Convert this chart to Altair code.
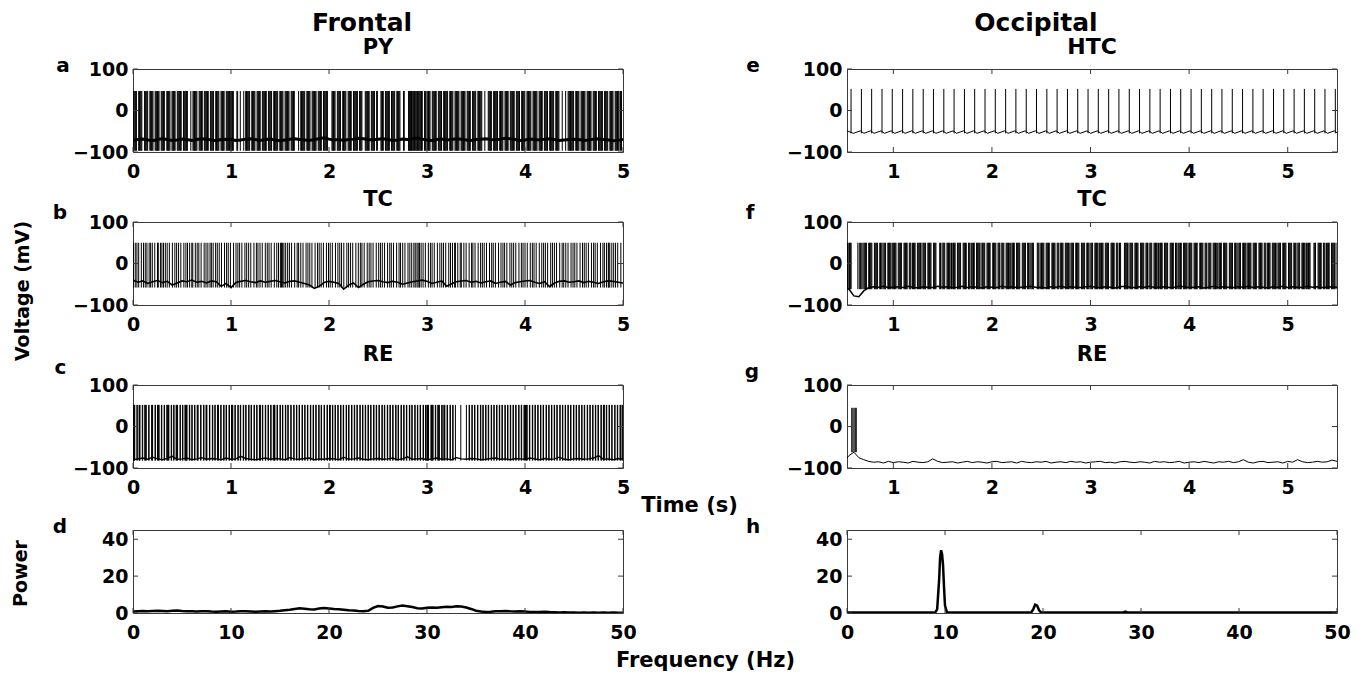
import altair as alt
import pandas as pd

FONT = "DejaVu Sans"
FRAME = "#3a3a3a"
W, H = 490, 83

# ---------------- axis ticks ----------------
time_ticks_left = [0, 1, 2, 3, 4, 5]
time_ticks_right = [1, 2, 3, 4, 5]
volt_ticks = [-100, 0, 100]
freq_ticks = [0, 10, 20, 30, 40, 50]
power_ticks = [0, 20, 40]

# ---------------- (a) Frontal PY ----------------
py_spikes_ms = [
    3, 11, 19, 27, 35, 58, 66, 74, 82, 90,
    118, 126, 134, 142, 150, 172, 180, 188, 196,
    204, 226, 234, 242, 250, 258, 266, 288, 296,
    304, 312, 320, 345, 353, 361, 369, 377, 398,
    406, 414, 422, 430, 452, 460, 468, 476, 484, 492,
    515, 523, 531, 539, 547, 555, 590,
    612, 620, 628, 636, 644, 652, 675, 683, 691, 699,
    707, 728, 736, 744, 752, 760, 768, 790, 798,
    806, 814, 822, 844, 852, 860, 868, 876, 898,
    906, 914, 922, 930, 952, 960, 968, 976, 984, 992,
    1000, 1008, 1016, 1024, 1060, 1068, 1095,
    1130, 1150, 1158, 1166, 1174, 1182, 1190,
    1212, 1220, 1228, 1236, 1244, 1266, 1274, 1282, 1290, 1298,
    1320, 1328, 1336, 1344, 1352, 1360, 1382, 1390, 1398,
    1406, 1414, 1436, 1444, 1452, 1460, 1468, 1476, 1498,
    1506, 1514, 1522, 1530, 1552, 1560, 1568, 1576, 1584, 1592,
    1614, 1622, 1630, 1638, 1646, 1690,
    1712, 1720, 1728, 1736, 1744, 1752, 1774, 1782, 1790, 1798,
    1806, 1828, 1836, 1844, 1852, 1860, 1868, 1890, 1898,
    1906, 1914, 1922, 1944, 1952, 1960, 1968, 1976, 1984,
    2030, 2038, 2046, 2054, 2062, 2085, 2093,
    2101, 2109, 2117, 2140, 2148, 2156, 2164, 2172, 2195,
    2203, 2211, 2219, 2227, 2250, 2258, 2266, 2274, 2282, 2290,
    2312, 2320, 2328, 2336, 2370, 2378, 2386, 2394,
    2402, 2410, 2432, 2440, 2448, 2456, 2464, 2486, 2494,
    2530, 2538, 2546, 2554, 2576, 2584, 2592,
    2600, 2608, 2616, 2638, 2646, 2654, 2662, 2670, 2692,
    2700, 2708, 2716, 2724, 2760, 2768,
    2812, 2818, 2824, 2830, 2836, 2842, 2848, 2856, 2864, 2872, 2880, 2888, 2896,
    2904, 2912, 2920, 2928, 2936, 2944, 2952, 2975, 2983, 2991,
    3007, 3015, 3023, 3031, 3054, 3062, 3070, 3078, 3086, 3094,
    3116, 3124, 3132, 3140, 3148, 3170, 3178, 3186, 3194,
    3202, 3210, 3232, 3240, 3248, 3256, 3264, 3286, 3294,
    3302, 3310, 3318, 3326, 3348, 3356, 3364, 3372, 3380, 3388,
    3410, 3418, 3426, 3434, 3442, 3465, 3473, 3481, 3489, 3497,
    3519, 3527, 3535, 3543, 3551, 3559, 3590,
    3625, 3633, 3641, 3649, 3657, 3680, 3688, 3696,
    3704, 3712, 3720, 3742, 3750, 3758, 3766, 3774, 3796,
    3804, 3812, 3820, 3828, 3850, 3858, 3866, 3874, 3882, 3890,
    3912, 3920, 3928, 3936, 3944, 3966, 3974, 3982, 3990, 3998,
    4020, 4028, 4036, 4044, 4052, 4060, 4082, 4090, 4098,
    4106, 4114, 4122, 4144, 4152, 4160, 4168, 4176, 4198,
    4206, 4214, 4222, 4230, 4252, 4260, 4268, 4276, 4284, 4292,
    4314, 4322, 4330, 4338, 4346, 4380,
    4415, 4440, 4448, 4456, 4464, 4472, 4480, 4488, 4496,
    4518, 4526, 4534, 4542, 4550, 4572, 4580, 4588, 4596,
    4604, 4612, 4634, 4642, 4650, 4658, 4666, 4674, 4696,
    4704, 4712, 4720, 4728, 4750, 4758, 4766, 4774, 4782, 4790,
    4812, 4820, 4828, 4836, 4844, 4866, 4874, 4882, 4890, 4898,
    4920, 4928, 4936, 4944, 4952, 4960, 4975, 4985,
]
py_spike_lo, py_spike_hi = -97, 47
py_base_t_ms = list(range(0, 5001, 50))
py_base_mv = [
    -72, -70, -69, -71, -73, -70, -68, -70, -72, -71,
    -69, -70, -72, -70, -68, -69, -71, -73, -70, -69,
    -70, -72, -71, -69, -68, -70, -72, -70, -69, -71,
    -73, -71, -69, -68, -70, -71, -72, -70, -68, -66,
    -69, -71, -70, -72, -70, -69, -67, -68, -70, -71,
    -69, -68, -70, -72, -71, -69, -70, -68, -67, -69,
    -71, -72, -70, -69, -71, -70, -68, -69, -71, -72,
    -70, -69, -68, -70, -71, -69, -67, -68, -70, -72,
    -71, -69, -70, -71, -69, -68, -70, -72, -71, -70,
    -69, -70, -72, -71, -69, -68, -70, -71, -73, -72, -70,
]

# ---------------- (b) Frontal TC ----------------
tcf_spikes_ms = [
    5, 23, 58, 85, 107, 142, 165, 197, 222, 250, 258, 280, 311, 349, 371, 402,
    427, 465, 488, 519, 556, 578, 600, 610, 636, 672, 695, 726, 764, 786, 818,
    843, 880, 903, 934, 972, 994, 1026, 1051, 1088, 1111, 1142, 1180, 1202,
    1234, 1259, 1296, 1319, 1350, 1388, 1410, 1442, 1467, 1504, 1515, 1527,
    1540, 1558, 1596, 1618, 1650, 1675, 1712, 1735, 1766, 1804, 1826, 1858,
    1883, 1920, 1943, 1974, 2012, 2034, 2066, 2091, 2128, 2151, 2182, 2220,
    2242, 2274, 2299, 2336, 2359, 2390, 2428, 2450, 2482, 2507, 2544, 2567,
    2598, 2636, 2658, 2690, 2715, 2752, 2775, 2806, 2844, 2866, 2880, 2898,
    2910, 2923, 2960, 2983, 3014, 3052, 3074, 3106, 3131, 3168, 3191, 3222,
    3260, 3282, 3290, 3314, 3339, 3350, 3376, 3399, 3430, 3468, 3490, 3522,
    3547, 3584, 3607, 3638, 3676, 3698, 3730, 3755, 3792, 3815, 3846, 3884,
    3906, 3938, 3963, 4000, 4023, 4054, 4092, 4114, 4146, 4171, 4208, 4231,
    4262, 4300, 4322, 4354, 4379, 4416, 4439, 4470, 4508, 4530, 4562, 4587,
    4624, 4647, 4678, 4716, 4738, 4770, 4795, 4832, 4850, 4855, 4865, 4886,
    4924, 4946, 4978,
    40, 125, 180, 295, 330, 445, 540, 655, 745, 800, 860, 955, 1070, 1160,
    1275, 1370, 1485, 1578, 1690, 1785, 1900, 1995, 2110, 2200, 2320, 2410,
    2525, 2620, 2730, 2825, 2940, 3035, 3150, 3240, 3455, 3565, 3660, 3775,
    3865, 3980, 4075, 4190, 4280, 4395, 4490, 4605, 4700, 4810, 4905,
]
tcf_spike_lo, tcf_spike_hi = -58, 50
tcf_base_t_ms = list(range(0, 5001, 50))
tcf_base_mv = [
    -40, -45, -42, -48, -44, -41, -46, -43, -52, -47,
    -42, -44, -40, -45, -43, -47, -42, -44, -55, -48,
    -58, -46, -43, -41, -44, -46, -42, -45, -43, -41,
    -44, -47, -43, -42, -45, -48, -52, -60, -55, -46,
    -43, -45, -48, -62, -52, -47, -58, -50, -44, -42,
    -41, -44, -46, -43, -45, -50, -47, -44, -42, -40,
    -43, -48, -45, -42, -55, -49, -44, -42, -41, -45,
    -43, -47, -44, -42, -48, -45, -43, -52, -46, -44,
    -42, -41, -45, -48, -44, -56, -47, -43, -42, -45,
    -44, -42, -46, -43, -45, -48, -44, -42, -43, -45, -47,
]

# ---------------- (c) Frontal RE ----------------
ref_spikes_ms = [
    3, 8, 14, 40, 62, 67, 95, 120, 125, 131, 160, 190, 196, 225, 250, 256, 262,
    290, 318, 345, 350, 356, 362, 390, 415, 440, 445, 451, 480, 505, 530, 535,
    541, 547, 575, 600, 628, 655, 660, 690, 720, 745, 750, 780, 810, 835, 862,
    868, 895, 925, 950, 980, 1005, 1008, 1013, 1018, 1040, 1070, 1095, 1125,
    1150, 1180, 1205, 1235, 1262, 1290, 1296, 1320, 1350, 1378, 1405, 1432,
    1438, 1444, 1470, 1500, 1525, 1555, 1580, 1610, 1640, 1668, 1695, 1725,
    1752, 1780, 1810, 1838, 1865, 1895, 1920, 1950, 1980, 2005, 2008, 2013,
    2035, 2062, 2090, 2118, 2145, 2175, 2200, 2230, 2258, 2285, 2315, 2342,
    2370, 2398, 2425, 2455, 2482, 2510, 2540, 2565, 2595, 2622, 2650, 2680,
    2705, 2735, 2762, 2790, 2820, 2845, 2875, 2902, 2930, 2960, 2985, 3000,
    3005, 3012, 3040, 3046, 3052, 3058, 3085, 3110, 3116, 3122, 3150, 3165,
    3178, 3205, 3235, 3262, 3290, 3345, 3402, 3430, 3458, 3485,
    3515, 3545, 3570, 3598, 3625, 3655, 3682, 3710, 3738, 3765, 3795, 3822,
    3850, 3878, 3905, 3935, 3962, 3990, 4005, 4012, 4018, 4045, 4075, 4102,
    4130, 4158, 4185, 4215, 4242, 4270, 4298, 4325, 4355, 4382, 4410, 4438,
    4465, 4495, 4522, 4550, 4578, 4605, 4635, 4662, 4690, 4718, 4745, 4775,
    4800, 4802, 4810, 4830, 4858, 4885, 4915, 4942, 4970, 4990,
    18, 44, 71, 99, 135, 164, 200, 229, 266, 294, 322, 366, 394, 419, 455, 484,
    509, 551, 579, 604, 632, 664, 694, 724, 754, 784, 814, 839, 872, 899, 929,
    954, 984, 1044, 1074, 1099, 1129, 1154, 1184, 1209, 1239, 1266, 1300, 1324,
    1354, 1382, 1409, 1448, 1474, 1504, 1529, 1559, 1584, 1614, 1644, 1672,
    1699, 1729, 1756, 1784, 1814, 1842, 1869, 1899, 1924, 1954, 1984, 2039,
    2066, 2094, 2122, 2149, 2179, 2204, 2234, 2262, 2289, 2319, 2346, 2374,
    2402, 2429, 2459, 2486, 2514, 2544, 2569, 2599, 2626, 2654, 2684, 2709,
    2739, 2766, 2794, 2824, 2849, 2879, 2906, 2934, 2964, 2989, 3016, 3062,
    3089, 3126, 3154, 3182, 3209, 3239, 3266, 3434, 3462, 3489, 3519, 3549,
    3574, 3602, 3629, 3659, 3686, 3714, 3742, 3769, 3799, 3826, 3854, 3882,
    3909, 3939, 3966, 3994, 4022, 4049, 4079, 4106, 4134, 4162, 4189, 4219,
    4246, 4274, 4302, 4329, 4359, 4386, 4414, 4442, 4469, 4499, 4526, 4554,
    4582, 4609, 4639, 4666, 4694, 4722, 4749, 4779, 4834, 4862, 4889, 4919,
    4946, 4974, 4994,
]
ref_spike_lo, ref_spike_hi = -82, 52
ref_base_t_ms = list(range(0, 5001, 50))
ref_base_mv = [
    -80, -78, -76, -79, -74, -78, -80, -77, -72, -79,
    -78, -76, -80, -78, -75, -79, -77, -78, -80, -76,
    -79, -78, -72, -77, -79, -80, -78, -76, -79, -77,
    -78, -80, -75, -78, -79, -77, -76, -80, -78, -79,
    -77, -78, -80, -74, -79, -78, -76, -79, -80, -78,
    -77, -79, -78, -76, -80, -78, -73, -79, -78, -77,
    -80, -78, -76, -79, -78, -80, -75, -78, -79, -77,
    -78, -80, -79, -77, -76, -79, -78, -80, -77, -78,
    -79, -76, -78, -80, -77, -79, -78, -74, -79, -80,
    -78, -77, -79, -78, -76, -70, -79, -78, -80, -77, -79,
]

# ---------------- (d) Frontal power ----------------
pf_freq = [i / 2 for i in range(101)]
pf_power = [
    0.8, 1.0, 1.1, 1.0, 1.1, 1.2, 1.1, 1.0, 1.2, 1.3,
    1.1, 1.0, 0.9, 0.8, 0.9, 1.0, 0.8, 0.7, 0.8, 0.9,
    0.7, 0.8, 1.0, 0.9, 0.8, 0.7, 0.8, 0.9, 0.8, 1.0,
    1.2, 1.5, 1.8, 2.2, 2.6, 2.3, 2.0, 1.9, 2.4, 2.7,
    2.5, 2.2, 2.0, 1.8, 1.5, 1.3, 1.1, 1.0, 1.2, 2.8,
    3.8, 3.5, 2.9, 3.0, 3.6, 4.0, 3.7, 3.2, 2.6, 2.5,
    2.9, 3.0, 2.8, 3.1, 3.4, 3.3, 3.6, 3.5, 3.0, 2.2,
    1.2, 0.8, 0.6, 0.7, 0.9, 1.0, 1.1, 0.9, 0.8, 0.9,
    0.8, 0.6, 0.5, 0.6, 0.7, 0.5, 0.4, 0.3, 0.4, 0.3,
    0.3, 0.2, 0.3, 0.2, 0.3, 0.2, 0.3, 0.2, 0.3, 0.2, 0.2,
]

# ---------------- (e) Occipital HTC ----------------
htc_spikes_ms = [
    571, 676, 780, 885, 989, 1094, 1198, 1303, 1407, 1512, 1616, 1721, 1825,
    1930, 2034, 2139, 2243, 2348, 2452, 2557, 2661, 2766, 2870, 2975, 3079,
    3184, 3288, 3393, 3497, 3602, 3706, 3811, 3915, 4020, 4124, 4229, 4333,
    4438, 4542, 4647, 4751, 4856, 4960, 5065, 5169, 5274, 5378, 5483,
]
htc_spike_lo, htc_spike_hi = -55, 52
htc_trough_ms = [
    596, 701, 805, 910, 1014, 1119, 1223, 1328, 1432, 1537, 1641, 1746, 1850,
    1955, 2059, 2164, 2268, 2373, 2477, 2582, 2686, 2791, 2895, 3000, 3104,
    3209, 3313, 3418, 3522, 3627, 3731, 3836, 3940, 4045, 4149, 4254, 4358,
    4463, 4567, 4672, 4776, 4881, 4985, 5090, 5194, 5299, 5403, 5508,
]
htc_trough_mv = -55
htc_pre_ms = [
    530, 666, 770, 875, 979, 1084, 1188, 1293, 1397, 1502, 1606, 1711, 1815,
    1920, 2024, 2129, 2233, 2338, 2442, 2547, 2651, 2756, 2860, 2965, 3069,
    3174, 3278, 3383, 3487, 3592, 3696, 3801, 3905, 4010, 4114, 4219, 4323,
    4428, 4532, 4637, 4741, 4846, 4950, 5055, 5159, 5264, 5368, 5473,
]
htc_pre_mv = -49

# ---------------- (f) Occipital TC ----------------
tco_spikes_ms = [
    535, 548, 556, 564, 572, 640, 655, 668, 680, 692,
    703, 711, 719, 727, 750, 758, 766, 774, 782,
    808, 816, 824, 832, 840, 862, 870, 878, 894,
    905, 913, 921, 944, 952, 960, 968, 976, 990,
    1003, 1011, 1019, 1027, 1050, 1058, 1066, 1074, 1082,
    1108, 1116, 1124, 1132, 1140, 1162, 1170, 1178, 1194,
    1205, 1213, 1221, 1244, 1252, 1260, 1268, 1276, 1290,
    1303, 1311, 1319, 1327, 1350, 1358, 1366, 1374, 1382,
    1408, 1416, 1424, 1432, 1470, 1478, 1494,
    1505, 1513, 1521, 1544, 1552, 1560, 1568, 1576, 1590,
    1603, 1611, 1619, 1627, 1650, 1658, 1666, 1674, 1682,
    1708, 1716, 1724, 1732, 1740, 1762, 1770, 1778, 1794,
    1805, 1813, 1821, 1844, 1852, 1860, 1868, 1876, 1890,
    1903, 1911, 1919, 1927, 1950, 1958, 1966, 1974, 1982,
    2008, 2016, 2024, 2032, 2040, 2062, 2070, 2078, 2094,
    2105, 2113, 2121, 2144, 2152, 2160, 2168, 2176, 2190,
    2203, 2211, 2219, 2227, 2250, 2258, 2266, 2274, 2282,
    2308, 2316, 2324, 2332, 2340, 2362, 2370, 2378, 2394,
    2405, 2413, 2421, 2460, 2468, 2476, 2490,
    2503, 2511, 2519, 2527, 2550, 2558, 2566, 2574, 2582,
    2608, 2616, 2624, 2632, 2640, 2662, 2670, 2678, 2694,
    2705, 2713, 2721, 2744, 2752, 2760, 2768, 2776, 2790,
    2803, 2811, 2819, 2827, 2850, 2858, 2866, 2874, 2882,
    2908, 2916, 2924, 2932, 2940, 2962, 2970, 2978, 2994,
    3005, 3013, 3021, 3044, 3052, 3060, 3068, 3076, 3090,
    3103, 3111, 3119, 3127, 3150, 3158, 3166, 3174, 3182,
    3208, 3216, 3224, 3232, 3240, 3262, 3270, 3278, 3294,
    3305, 3344, 3352, 3360, 3368, 3376, 3390,
    3403, 3411, 3419, 3427, 3450, 3458, 3466, 3474, 3482,
    3508, 3516, 3524, 3532, 3540, 3562, 3570, 3578, 3594,
    3605, 3613, 3621, 3644, 3652, 3660, 3668, 3676, 3690,
    3703, 3711, 3719, 3727, 3750, 3758, 3766, 3774, 3782,
    3808, 3816, 3824, 3832, 3840, 3862, 3870, 3878, 3894,
    3905, 3913, 3921, 3944, 3952, 3960, 3968, 3976, 3990,
    4003, 4011, 4019, 4027, 4050, 4058, 4066, 4074, 4082,
    4108, 4116, 4124, 4132, 4140, 4162, 4170, 4178, 4194,
    4205, 4213, 4221, 4244, 4252, 4260, 4268, 4276, 4290,
    4303, 4311, 4319, 4327, 4350, 4358, 4366, 4374, 4382,
    4408, 4416, 4424, 4432, 4440, 4462, 4470, 4478, 4494,
    4505, 4513, 4521, 4544, 4552, 4560, 4568, 4576, 4590,
    4603, 4611, 4619, 4627, 4650, 4658, 4666, 4674, 4682,
    4708, 4716, 4724, 4732, 4740, 4762, 4770, 4778, 4794,
    4805, 4813, 4821, 4844, 4852, 4860, 4868, 4876, 4890,
    4903, 4911, 4919, 4927, 4950, 4958, 4966, 4974, 4982,
    5008, 5016, 5024, 5032, 5040, 5062, 5070, 5078, 5094,
    5105, 5113, 5121, 5144, 5152, 5160, 5168, 5176, 5190,
    5203, 5211, 5219, 5227, 5266, 5274, 5282,
    5308, 5316, 5324, 5332, 5340, 5362, 5370, 5378, 5394,
    5405, 5413, 5421, 5444, 5452, 5460, 5468, 5476, 5490,
]
tco_spike_lo, tco_spike_hi = -62, 50
tco_base_t_ms = list(range(500, 5501, 50))
tco_base_mv = [
    -57, -62, -78, -80, -66, -58, -56, -57, -55, -58,
    -57, -56, -58, -55, -57, -59, -56, -57, -58, -55,
    -57, -56, -58, -57, -55, -58, -56, -57, -59, -56,
    -57, -58, -55, -57, -56, -58, -57, -56, -55, -58,
    -57, -59, -56, -57, -55, -58, -56, -57, -58, -56,
    -55, -57, -58, -56, -57, -59, -56, -55, -57, -58,
    -56, -57, -55, -58, -57, -56, -58, -57, -55, -56,
    -58, -57, -56, -59, -57, -55, -58, -56, -57, -58,
    -56, -57, -55, -58, -56, -57, -59, -56, -57, -55,
    -58, -56, -57, -58, -55, -57, -56, -58, -57, -56, -57,
]

# ---------------- (g) Occipital RE ----------------
reo_spikes_ms = [578, 590, 602, 614, 624]
reo_spike_lo, reo_spike_hi = -62, 45
reo_base_t_ms = list(range(500, 5501, 50))
reo_base_mv = [
    -86, -70, -62, -75, -80, -84, -86, -85, -88, -84,
    -87, -85, -86, -88, -84, -86, -87, -85, -78, -84,
    -87, -86, -85, -88, -86, -84, -87, -85, -86, -88,
    -85, -84, -87, -86, -85, -88, -84, -86, -87, -85,
    -86, -84, -88, -86, -85, -87, -84, -86, -85, -88,
    -86, -85, -84, -87, -86, -88, -85, -84, -86, -87,
    -85, -86, -88, -84, -86, -85, -87, -86, -84, -88,
    -86, -85, -87, -84, -86, -88, -85, -86, -84, -87,
    -85, -80, -86, -88, -85, -84, -87, -86, -85, -88,
    -84, -86, -80, -85, -87, -86, -84, -86, -85, -81, -84,
]

# ---------------- (h) Occipital power ----------------
po_freq = [0, 9.0, 9.2, 9.4, 9.5, 9.6, 9.7, 9.8, 9.9, 10.0, 10.2,
           18.8, 19.0, 19.2, 19.4, 19.6, 19.8, 28.2, 28.4, 28.6, 50]
po_power = [0.3, 0.3, 2, 18, 30, 34, 32, 26, 14, 4, 0.3,
            0.3, 2, 4.5, 4, 1.5, 0.3, 0.3, 0.7, 0.3, 0.3]


# ---------------- helpers ----------------
def make_x(field, dom, ticks, **axis_kw):
    return alt.X(f"{field}:Q", scale=alt.Scale(domain=dom, nice=False, zero=False),
                 axis=alt.Axis(values=ticks, format="d", **axis_kw))


def make_y(field, dom, ticks, **axis_kw):
    return alt.Y(f"{field}:Q", scale=alt.Scale(domain=dom, nice=False, zero=False),
                 axis=alt.Axis(values=ticks, format="d", **axis_kw))


def frame_ticks(xdom, xticks, ydom, yticks, xkw, ykw):
    xt = pd.DataFrame({"t": xticks})
    yt = pd.DataFrame({"v": yticks})
    layers = []
    for y0, y1 in ((0, 5), (H - 5, H)):
        layers.append(alt.Chart(xt).mark_rule(color=FRAME, strokeWidth=1).encode(
            x=make_x("t", xdom, xticks, **xkw), y=alt.value(y0), y2=alt.value(y1)))
    for x0, x1 in ((0, 5), (W - 5, W)):
        layers.append(alt.Chart(yt).mark_rule(color=FRAME, strokeWidth=1).encode(
            y=make_y("v", ydom, yticks, **ykw), x=alt.value(x0), x2=alt.value(x1)))
    return layers


def label(text, dx, dy, size=20):
    return alt.Chart(pd.DataFrame({"s": [text]})).mark_text(
        font=FONT, fontWeight="bold", fontSize=size, align="center", baseline="middle",
        color="black").encode(text="s:N", x=alt.value(dx), y=alt.value(dy))


def with_title(kw):
    out = {"title": None}
    out.update(kw or {})
    return out


def volt_panel(spikes_ms, lo, hi, base_t_ms, base_mv, base_w, xdom, xticks,
               title, tdy, tsize, letter, ldx, ldy, xkw=None, ykw=None, extra=None):
    xkw = with_title(xkw)
    ykw = with_title(ykw)
    ydom = [-100, 100]
    sp = pd.DataFrame({"t": [v / 1000 for v in spikes_ms], "lo": lo, "hi": hi})
    bs = pd.DataFrame({"t": [v / 1000 for v in base_t_ms], "v": base_mv})
    layers = [
        alt.Chart(sp).mark_rule(color="black", strokeWidth=1, clip=True).encode(
            x=make_x("t", xdom, xticks, **xkw), y=make_y("lo", ydom, volt_ticks, **ykw),
            y2="hi:Q"),
        alt.Chart(bs).mark_line(color="black", strokeWidth=base_w, clip=True).encode(
            x=make_x("t", xdom, xticks, **xkw), y=make_y("v", ydom, volt_ticks, **ykw)),
    ]
    layers += frame_ticks(xdom, xticks, ydom, volt_ticks, xkw, ykw)
    layers.append(label(letter, ldx, ldy))
    layers.append(label(title, W / 2, tdy, tsize))
    if extra is not None:
        layers += extra
    return alt.layer(*layers).properties(width=W, height=H)


def power_panel(freq, power, letter, ldx, ldy, xkw=None, ykw=None):
    xkw = with_title(xkw)
    ykw = with_title(ykw)
    xdom, ydom = [0, 50], [0, 45]
    df = pd.DataFrame({"t": freq, "v": power})
    layers = [alt.Chart(df).mark_line(color="black", strokeWidth=2.5, clip=True).encode(
        x=make_x("t", xdom, freq_ticks, **xkw), y=make_y("v", ydom, power_ticks, **ykw))]
    layers += frame_ticks(xdom, freq_ticks, ydom, power_ticks, xkw, ykw)
    layers.append(label(letter, ldx, ldy))
    return alt.layer(*layers).properties(width=W, height=H)


def spacer(h):
    return alt.Chart(pd.DataFrame({"a": [0]})).mark_point(opacity=0).encode(
        x=alt.X("a:Q", axis=None), y=alt.Y("a:Q", axis=None)
    ).properties(width=W, height=h, view=alt.ViewBackground(strokeOpacity=0))


LEFT = [0, 5]
RIGHT = [0.53, 5.5]

pa = volt_panel(py_spikes_ms, py_spike_lo, py_spike_hi, py_base_t_ms, py_base_mv, 3,
                LEFT, time_ticks_left, "PY", -21, 21, "a", -70, -3,
                extra=[label("Frontal", 229, -46, 25)])
pb = volt_panel(tcf_spikes_ms, tcf_spike_lo, tcf_spike_hi, tcf_base_t_ms, tcf_base_mv, 1.6,
                LEFT, time_ticks_left, "TC", -22.5, 21, "b", -73, -9.5,
                ykw=dict(title="Voltage (mV)", titleX=-111, titleY=68.5, titleAngle=270,
                         titleAlign="center", titleBaseline="middle", titleFontSize=19))
pc = volt_panel(ref_spikes_ms, ref_spike_lo, ref_spike_hi, ref_base_t_ms, ref_base_mv, 1.4,
                LEFT, time_ticks_left, "RE", -30, 21, "c", -72.5, -17,
                xkw=dict(title="Time (s)", titleX=556, titleY=37, titleAlign="center",
                         titleBaseline="middle", titleFontSize=21))
pd_ = power_panel(pf_freq, pf_power, "d", -73, -3.3,
                  xkw=dict(title="Frequency (Hz)", titleX=572, titleY=47.5, titleAlign="center",
                           titleBaseline="middle", titleFontSize=21),
                  ykw=dict(title="Power", titleX=-113, titleY=43, titleAngle=270,
                           titleAlign="center", titleBaseline="middle", titleFontSize=19))

htc_t = htc_trough_ms + htc_pre_ms
htc_v = [htc_trough_mv] * len(htc_trough_ms) + [htc_pre_mv] * len(htc_pre_ms)
order = sorted(range(len(htc_t)), key=lambda i: htc_t[i])
htc_base_t = [htc_t[i] for i in order]
htc_base_v = [htc_v[i] for i in order]

pe = volt_panel(htc_spikes_ms, htc_spike_lo, htc_spike_hi, htc_base_t, htc_base_v, 1,
                RIGHT, time_ticks_right, "HTC", -22, 22, "e", -94, -3,
                extra=[label("Occipital", 189, -46, 25)])
pf = volt_panel(tco_spikes_ms, tco_spike_lo, tco_spike_hi, tco_base_t_ms, tco_base_mv, 1.5,
                RIGHT, time_ticks_right, "TC", -22, 21, "f", -97, -9.2)
pg = volt_panel(reo_spikes_ms, reo_spike_lo, reo_spike_hi, reo_base_t_ms, reo_base_mv, 1,
                RIGHT, time_ticks_right, "RE", -30, 21, "g", -95, -13.3)
ph = power_panel(po_freq, po_power, "h", -94, -3.3)

chart = alt.concat(
    pa, pe,
    spacer(29.5), spacer(29.5),
    pb, pf,
    spacer(39.5), spacer(39.5),
    pc, pg,
    spacer(22), spacer(22),
    pd_, ph,
    columns=2,
    spacing=alt.RowColnumber(row=20, column=224),
    bounds="flush",
    align="each",
).properties(
    padding={"left": 2, "top": 2, "right": 5, "bottom": 2},
).configure_view(
    stroke=FRAME, strokeWidth=1,
).configure_axis(
    domain=False, ticks=False, tickSize=0, grid=False,
    labelFont=FONT, labelFontWeight="bold", labelFontSize=19, labelColor="black",
    labelFlush=False, labelOverlap=False, labelPadding=10,
    titleFont=FONT, titleFontWeight="bold", titleColor="black",
).configure_axisY(
    labelPadding=5,
)

chart.save("out.html", embed_options={"renderer": "svg", "actions": False})
